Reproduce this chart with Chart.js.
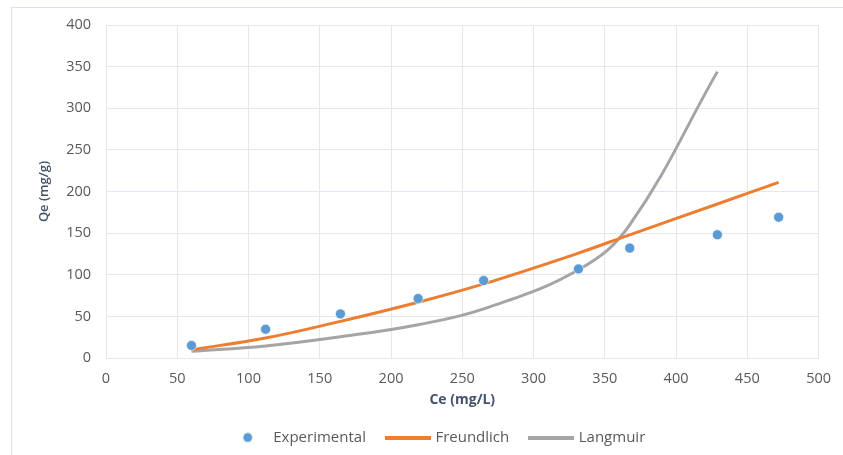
<!DOCTYPE html>
<html>
<head>
<meta charset="utf-8">
<script src="https://cdn.jsdelivr.net/npm/chart.js@4"></script>
<style>
  html, body { margin: 0; padding: 0; background: #fff; }
  #wrap { position: absolute; left: 0; top: 0; width: 843px; height: 455px; }
  #frame { position: absolute; left: 11px; top: 7px; width: 840px; height: 460px;
           border-left: 1px solid #dde2e8; border-top: 1px solid #dde2e8; }
  canvas { position: absolute; left: 0; top: 0; }
</style>
</head>
<body>
<div id="wrap">
  <div id="frame"></div>
  <canvas id="isoChart" width="843" height="455"></canvas>
</div>
<script>
// Ce (mg/L) values
const ceExp = [60, 112, 164.5, 219, 265, 331.5, 367.5, 429, 472];
const qeExp = [15, 34.5, 53, 71.5, 93, 107, 132, 148, 169];

const ceFreund = [60, 112, 164.5, 219, 265, 331.5, 367.5, 429, 472];
const qeFreund = [10, 24, 44, 67, 89, 126, 148, 185, 211];

const ceLang = [60, 112, 164.5, 219, 265, 331.5, 367.5, 429];
const qeLang = [8, 14.5, 25.5, 40, 59, 106, 160, 344];

const seriesNames = ['Experimental', 'Freundlich', 'Langmuir'];

const toPoints = (xs, ys) => xs.map((x, i) => ({ x: x, y: ys[i] }));

// little canvases used as legend markers
function markerDot(color) {
    const c = document.createElement('canvas');
    c.width = 16; c.height = 12;
    const g = c.getContext('2d');
    g.fillStyle = color;
    g.beginPath();
    g.arc(10, 6, 4.5, 0, Math.PI * 2);
    g.fill();
    return c;
}
function markerLine(color) {
    const c = document.createElement('canvas');
    c.width = 46; c.height = 4;
    const g = c.getContext('2d');
    g.fillStyle = color;
    g.fillRect(0, 0, 46, 4);
    return c;
}

const blue = '#5b9bd5';
const orange = '#ed7d31';
const grey = '#a5a5a5';
const gridColor = '#e3e7ee';
const tickColor = '#595959';
const titleColor = '#44546a';

const legendMarkers = [markerDot(blue), markerLine(orange), markerLine(grey)];

// nudge the legend a bit to the right, like the original
const legendShift = {
    id: 'legendShift',
    afterLayout(chart) {
        if (chart.legend) chart.legend.left += 16;
    }
};

const ctx = document.getElementById('isoChart').getContext('2d');

new Chart(ctx, {
    type: 'scatter',
    plugins: [legendShift],
    data: {
        datasets: [
            {
                label: seriesNames[0],
                data: toPoints(ceExp, qeExp),
                showLine: false,
                backgroundColor: blue,
                borderColor: 'rgba(255,255,255,0.6)',
                borderWidth: 1,
                pointRadius: 5,
                pointStyle: 'circle',
                order: 0
            },
            {
                label: seriesNames[1],
                data: toPoints(ceFreund, qeFreund),
                showLine: true,
                borderColor: orange,
                backgroundColor: orange,
                borderWidth: 3,
                pointRadius: 0,
                tension: 0.4,
                order: 1
            },
            {
                label: seriesNames[2],
                data: toPoints(ceLang, qeLang),
                showLine: true,
                borderColor: grey,
                backgroundColor: grey,
                borderWidth: 3,
                pointRadius: 0,
                tension: 0.4,
                order: 2
            }
        ]
    },
    options: {
        responsive: false,
        animation: false,
        layout: { padding: { left: 36, right: 24, top: 25, bottom: 0 } },
        plugins: {
            tooltip: { enabled: false },
            legend: {
                position: 'bottom',
                labels: {
                    usePointStyle: true,
                    pointStyleWidth: 40,
                    padding: 22,
                    color: tickColor,
                    font: { family: 'Open Sans', size: 15 },
                    generateLabels: chart => {
                        const items = Chart.defaults.plugins.legend.labels.generateLabels(chart);
                        items.forEach((it, i) => { it.pointStyle = legendMarkers[i]; });
                        return items;
                    }
                }
            }
        },
        scales: {
            x: {
                type: 'linear',
                min: 0,
                max: 500,
                ticks: {
                    stepSize: 50,
                    color: tickColor,
                    padding: 12,
                    font: { family: 'Open Sans', size: 14.5 }
                },
                grid: { color: gridColor, drawTicks: false },
                border: { color: gridColor },
                title: {
                    display: true,
                    text: 'Ce (mg/L)',
                    color: titleColor,
                    padding: { top: 2, bottom: 0 },
                    font: { family: 'Open Sans', size: 14, weight: 'bold' }
                },
                afterFit: s => { s.height = 50; }
            },
            y: {
                min: 0,
                max: 400,
                ticks: {
                    stepSize: 50,
                    color: tickColor,
                    padding: 15,
                    font: { family: 'Open Sans', size: 14.5 }
                },
                grid: { color: gridColor, drawTicks: false },
                border: { color: gridColor },
                title: {
                    display: true,
                    text: 'Qe (mg/g)',
                    color: titleColor,
                    padding: { top: 0, bottom: 0 },
                    font: { family: 'Open Sans', size: 13, weight: 600 }
                },
                afterFit: s => { s.width = 70; }
            }
        }
    }
});
</script>
</body>
</html>
